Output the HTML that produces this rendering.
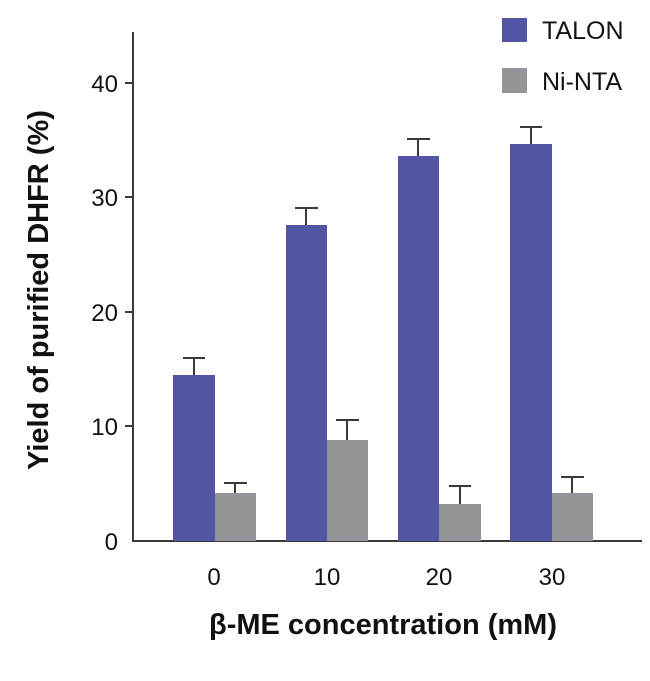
<!DOCTYPE html>
<html><head><meta charset="utf-8"><style>
html,body{margin:0;padding:0;background:#fff;}
</style></head><body>
<svg width="650" height="676" xmlns="http://www.w3.org/2000/svg" font-family="Liberation Sans, sans-serif">
<rect width="650" height="676" fill="#fff"/>
<g stroke="#3a3a3a" stroke-width="2" fill="none">
<line x1="133" y1="32" x2="133" y2="542"/>
<line x1="132" y1="541" x2="642" y2="541"/>
<line x1="125" y1="83" x2="133" y2="83"/>
<line x1="125" y1="197" x2="133" y2="197"/>
<line x1="125" y1="312" x2="133" y2="312"/>
<line x1="125" y1="426" x2="133" y2="426"/>
</g>
<g font-size="24" fill="#111" text-anchor="end">
<text x="118" y="92">40</text>
<text x="118" y="206">30</text>
<text x="118" y="321">20</text>
<text x="118" y="435">10</text>
<text x="118" y="550">0</text>
</g>
<g font-size="24" fill="#111" text-anchor="middle">
<text x="214" y="585">0</text>
<text x="327" y="585">10</text>
<text x="439" y="585">20</text>
<text x="552" y="585">30</text>
</g>
<g fill="#5155a3">
<rect x="173" y="375" width="42" height="166"/>
<rect x="286" y="225" width="41" height="316"/>
<rect x="398" y="156" width="41" height="385"/>
<rect x="510" y="144" width="42" height="397"/>
</g>
<g fill="#939598">
<rect x="215" y="493" width="41" height="48"/>
<rect x="327" y="440" width="41" height="101"/>
<rect x="439" y="504" width="42" height="37"/>
<rect x="552" y="493" width="41" height="48"/>
</g>
<g stroke="#3a3a3a" stroke-width="2">
<line x1="194" y1="375" x2="194" y2="358"/><line x1="183" y1="358" x2="205" y2="358"/>
<line x1="306" y1="225" x2="306" y2="208"/><line x1="295" y1="208" x2="318" y2="208"/>
<line x1="418" y1="156" x2="418" y2="139"/><line x1="407" y1="139" x2="430" y2="139"/>
<line x1="531" y1="144" x2="531" y2="127"/><line x1="520" y1="127" x2="542" y2="127"/>
<line x1="235" y1="493" x2="235" y2="483"/><line x1="224" y1="483" x2="247" y2="483"/>
<line x1="347" y1="440" x2="347" y2="420"/><line x1="336" y1="420" x2="359" y2="420"/>
<line x1="460" y1="504" x2="460" y2="486"/><line x1="449" y1="486" x2="471" y2="486"/>
<line x1="572" y1="493" x2="572" y2="477"/><line x1="561" y1="477" x2="584" y2="477"/>
</g>
<rect x="502" y="18" width="25" height="24" fill="#5155a3"/>
<rect x="502" y="68" width="25" height="25" fill="#939598"/>
<g font-size="25" fill="#111">
<text x="542" y="39">TALON</text>
<text x="542" y="90">Ni-NTA</text>
</g>
<text x="383" y="634" font-size="29" font-weight="bold" text-anchor="middle" fill="#111">β-ME concentration (mM)</text>
<text transform="translate(48,290) rotate(-90)" font-size="29" font-weight="bold" text-anchor="middle" fill="#111">Yield of purified DHFR (%)</text>
</svg>
</body></html>
